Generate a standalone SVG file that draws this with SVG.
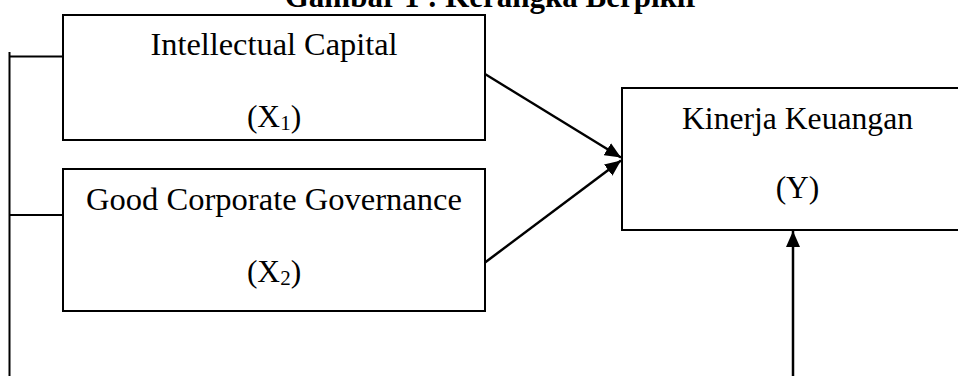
<svg xmlns="http://www.w3.org/2000/svg" width="958" height="376" viewBox="0 0 958 376">
<defs>
<style>
.box{fill:#fff;stroke:#000;stroke-width:2}
.t{font-family:"Liberation Serif","Times New Roman",serif;font-size:31.5px;fill:#000;text-anchor:middle}
.title{font-family:"Liberation Serif","Times New Roman",serif;font-size:31px;font-weight:bold;fill:#000;text-anchor:middle}
.ln{fill:none;stroke:#000;stroke-width:2}
.ar{fill:none;stroke:#000;stroke-width:2.5}
.sub{font-size:21px}
</style>
<marker id="ah" markerWidth="16" markerHeight="14" refX="16" refY="7" orient="auto" markerUnits="userSpaceOnUse">
<path d="M0,0 L16,7 L0,14 Z" fill="#000"/>
</marker>
</defs>
<rect width="958" height="376" fill="#fff"/>
<text class="title" x="492" y="7">Gambar 1 : Kerangka Berpikir</text>
<g id="connectors">
<path class="ln" d="M9.5,52 V376"/>
<path class="ln" d="M9.5,56.5 H63"/>
<path class="ln" d="M9.5,215 H63"/>
<path class="ar" d="M485,74 L621,157.5" marker-end="url(#ah)"/>
<path class="ar" d="M483,264 L621,160.5" marker-end="url(#ah)"/>
<path class="ar" d="M793,376 V231" marker-end="url(#ah)"/>
</g>
<g id="x1">
<rect class="box" x="63" y="15" width="422" height="125"/>
<text class="t" x="274" y="55" textLength="247" lengthAdjust="spacingAndGlyphs">Intellectual Capital</text>
<text class="t" x="274" y="127">(X<tspan class="sub" dy="3">1</tspan><tspan dy="-3">)</tspan></text>
</g>
<g id="x2">
<rect class="box" x="63" y="169" width="422" height="142"/>
<text class="t" x="274" y="210" textLength="376" lengthAdjust="spacingAndGlyphs">Good Corporate Governance</text>
<text class="t" x="274" y="282">(X<tspan class="sub" dy="3">2</tspan><tspan dy="-3">)</tspan></text>
</g>
<g id="y">
<rect class="box" x="622" y="88" width="350" height="142"/>
<text class="t" x="797.5" y="129" textLength="231" lengthAdjust="spacingAndGlyphs">Kinerja Keuangan</text>
<text class="t" x="797.5" y="198">(Y)</text>
</g>
</svg>
